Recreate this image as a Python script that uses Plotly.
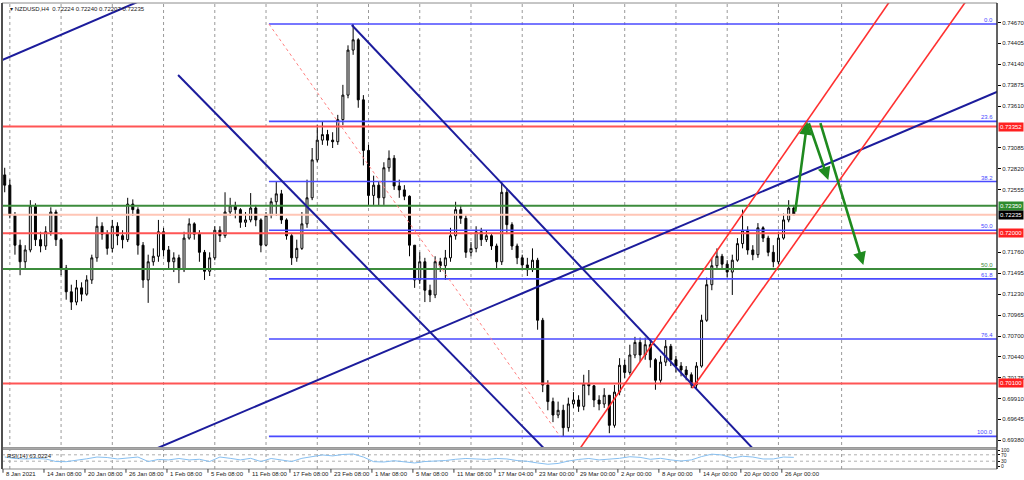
import plotly.graph_objects as go

# ---------------- data ----------------
# NZDUSD H4, each candle here groups three H4 bars
first_open = 0.7274
closes = [
    0.7261, 0.7223, 0.7185, 0.7164, 0.7179, 0.7235, 0.7192, 0.7184, 0.7202, 0.7227,
    0.7192, 0.7156, 0.7126, 0.7113, 0.7131, 0.7123, 0.7141, 0.7169, 0.7209, 0.7199,
    0.7181, 0.7209, 0.7197, 0.7192, 0.7237, 0.7230, 0.7185, 0.7141, 0.7164, 0.7171,
    0.7202, 0.7179, 0.7164, 0.7169, 0.7154, 0.7194, 0.7212, 0.7199, 0.7176, 0.7152,
    0.7169, 0.7204, 0.7197, 0.7227, 0.7235, 0.7230, 0.7214, 0.7217, 0.7232, 0.7217,
    0.7185, 0.7223, 0.7240, 0.7250, 0.7217, 0.7197, 0.7169, 0.7181, 0.7212, 0.7245,
    0.7293, 0.7318, 0.7325, 0.7318, 0.7316, 0.7344, 0.7375, 0.7432, 0.7445, 0.7369,
    0.7305, 0.7248, 0.7261, 0.7245, 0.7283, 0.7295, 0.7260, 0.7255, 0.7247, 0.7185,
    0.7141, 0.7164, 0.7128, 0.7122, 0.7164, 0.7159, 0.7169, 0.7197, 0.7230, 0.7219,
    0.7176, 0.7181, 0.7202, 0.7192, 0.7197, 0.7184, 0.7164, 0.7252, 0.7211, 0.7184,
    0.7169, 0.7160, 0.7154, 0.7166, 0.7090, 0.7008, 0.6987, 0.6970, 0.6976, 0.6954,
    0.6984, 0.6989, 0.6981, 0.7009, 0.7007, 0.6989, 0.6984, 0.6995, 0.6957, 0.6999,
    0.7033, 0.7024, 0.7046, 0.7062, 0.7046, 0.7059, 0.7040, 0.7014, 0.7037, 0.7057,
    0.7040, 0.7032, 0.7027, 0.7021, 0.7008, 0.7032, 0.7090, 0.7135, 0.7159, 0.7171,
    0.7161, 0.7151, 0.7166, 0.7187, 0.7204, 0.7179, 0.7173, 0.7207, 0.7194, 0.7176,
    0.7164, 0.7194, 0.7217, 0.7232, 0.72235,
]
highs = [
    0.7283, 0.7268, 0.7227, 0.7192, 0.7185, 0.7242, 0.7238, 0.7202, 0.7209, 0.7233,
    0.7230, 0.7194, 0.7160, 0.7135, 0.7141, 0.7138, 0.7147, 0.7173, 0.7221, 0.7214,
    0.7204, 0.7217, 0.7214, 0.7204, 0.7245, 0.7243, 0.7233, 0.7189, 0.7173, 0.7181,
    0.7217, 0.7207, 0.7184, 0.7176, 0.7173, 0.7202, 0.7219, 0.7214, 0.7204, 0.7179,
    0.7176, 0.7209, 0.7209, 0.7252, 0.7245, 0.7240, 0.7232, 0.7227, 0.7251, 0.7236,
    0.7219, 0.7227, 0.7245, 0.7265, 0.7255, 0.7219, 0.7199, 0.7192, 0.7227, 0.7268,
    0.7308, 0.7337, 0.7341, 0.7331, 0.7328, 0.7350, 0.7388, 0.7438, 0.7465, 0.7447,
    0.7375, 0.7312, 0.7273, 0.7265, 0.7290, 0.7305, 0.7299, 0.7268, 0.7261, 0.7248,
    0.7185, 0.7176, 0.7169, 0.7135, 0.7171, 0.7169, 0.7179, 0.7207, 0.7240, 0.7236,
    0.7223, 0.7189, 0.7209, 0.7207, 0.7204, 0.7199, 0.7187, 0.7265, 0.7257, 0.7214,
    0.7187, 0.7173, 0.7169, 0.7181, 0.7169, 0.7093, 0.7014, 0.6992, 0.6987, 0.6983,
    0.6992, 0.6999, 0.6995, 0.7021, 0.7027, 0.7008, 0.6995, 0.7004, 0.6995, 0.7008,
    0.7042, 0.7040, 0.7059, 0.7069, 0.7068, 0.7068, 0.7065, 0.7042, 0.7045, 0.7065,
    0.7060, 0.7045, 0.7037, 0.7032, 0.7024, 0.7037, 0.7097, 0.7144, 0.7169, 0.7181,
    0.7174, 0.7166, 0.7173, 0.7194, 0.7230, 0.7209, 0.7185, 0.7213, 0.7209, 0.7197,
    0.7185, 0.7202, 0.7225, 0.7242, 0.7236,
]
lows = [
    0.7252, 0.7219, 0.7173, 0.7147, 0.7156, 0.7176, 0.7184, 0.7176, 0.7179, 0.7197,
    0.7184, 0.7147, 0.7116, 0.7103, 0.7109, 0.7114, 0.7121, 0.7136, 0.7164, 0.7192,
    0.7173, 0.7176, 0.7185, 0.7181, 0.7189, 0.7222, 0.7173, 0.7131, 0.7112, 0.7159,
    0.7164, 0.7171, 0.7154, 0.7151, 0.7137, 0.7151, 0.7192, 0.7192, 0.7164, 0.7141,
    0.7146, 0.7166, 0.7189, 0.7194, 0.7222, 0.7219, 0.7207, 0.7208, 0.7214, 0.7209,
    0.7176, 0.7184, 0.7219, 0.7222, 0.7212, 0.7192, 0.7160, 0.7164, 0.7179, 0.7207,
    0.7242, 0.7290, 0.7312, 0.7311, 0.7308, 0.7312, 0.7337, 0.7371, 0.7426, 0.7359,
    0.7286, 0.7236, 0.7236, 0.7235, 0.7236, 0.7278, 0.7255, 0.7245, 0.7242, 0.7171,
    0.7131, 0.7136, 0.7113, 0.7113, 0.7118, 0.7151, 0.7141, 0.7164, 0.7192, 0.7212,
    0.7169, 0.7171, 0.7176, 0.7184, 0.7189, 0.7179, 0.7154, 0.7160, 0.7199, 0.7179,
    0.7161, 0.7154, 0.7146, 0.7151, 0.7078, 0.6999, 0.6976, 0.6961, 0.6966, 0.6943,
    0.6949, 0.6979, 0.6974, 0.6976, 0.6995, 0.6980, 0.6976, 0.6979, 0.6947, 0.6954,
    0.6995, 0.7017, 0.7021, 0.7042, 0.7037, 0.7040, 0.7030, 0.7002, 0.7009, 0.7032,
    0.7032, 0.7024, 0.7019, 0.7014, 0.7004, 0.7004, 0.7030, 0.7088, 0.7128, 0.7154,
    0.7156, 0.7144, 0.7122, 0.7164, 0.7181, 0.7173, 0.7166, 0.7169, 0.7189, 0.7171,
    0.7157, 0.7161, 0.7192, 0.7214, 0.7223,
]
rsi_values = [
    56, 47, 44, 47, 44, 28, 27, 34, 45, 56,
    53, 44, 48, 56, 28, 41, 38, 47, 38, 42,
    28, 56, 48, 38, 48, 28, 47, 38, 28, 48,
    59, 69, 63, 72, 75, 56, 27, 25, 33, 27,
    19, 28, 31, 34, 42, 47, 44, 41, 47, 44,
    34, 29, 19, 11, 16, 31, 41, 47, 38, 42,
    48, 58, 54, 42, 48, 38, 31, 38, 59, 74,
    69, 50, 61, 56, 44, 44, 56, 54,
]

date_labels = [
    "8 Jan 2021", "14 Jan 08:00", "20 Jan 08:00", "26 Jan 08:00", "1 Feb 08:00",
    "5 Feb 08:00", "11 Feb 08:00", "17 Feb 08:00", "23 Feb 08:00", "1 Mar 08:00",
    "5 Mar 08:00", "11 Mar 08:00", "17 Mar 04:00", "23 Mar 00:00", "29 Mar 00:00",
    "2 Apr 00:00", "8 Apr 00:00", "14 Apr 00:00", "20 Apr 00:00", "26 Apr 00:00",
]
# scale labels that stay visible (the ones under the coloured price boxes are hidden)
price_ticks = [
    0.74670, 0.74405, 0.74140, 0.73875, 0.73610, 0.73085, 0.72820,
    0.72555, 0.71760, 0.71495, 0.71230, 0.70965, 0.70700,
    0.70440, 0.70175, 0.69910, 0.69645, 0.69380,
]
rsi_ticks = [100, 70, 30, 0]

# drawn objects, anchors as (bar number, price)
navy_lines = [
    [(-1.76, 0.74182), (91.9, 0.75051)],
    [(56.8, 0.68973), (642.2, 0.74343)],
    [(102.5, 0.74004), (333.7, 0.68904)],
    [(204.2, 0.74637), (455.3, 0.68904)],
]
red_channel = [
    [(325.9, 0.68904), (523.8, 0.75081)],
    [(403.6, 0.70038), (568.5, 0.75081)],
]
fib_anchor_1 = (155.7, 0.7465)
fib_anchor_2 = (326.1, 0.6943)
fib_ratios = [0.0, 23.6, 38.2, 50.0, 61.8, 76.4, 100.0]
red_levels = [0.73352, 0.72000, 0.70100]
green_levels = [0.72350, 0.71550]
bid_price = 0.72235
arrows = [
    [(463.7, 0.72257), (470.9, 0.73413)],
    [(471.5, 0.73413), (483.2, 0.72675)],
    [(478.3, 0.73413), (503.7, 0.71599)],
]
grid_bars = [4, 34, 64, 94, 124, 154, 184, 214, 244, 274, 304, 334, 364, 394, 424, 454, 491]

# ---------------- figure ----------------
BARS_PER_CANDLE = 3
candle_x = [BARS_PER_CANDLE * k + 1 for k in range(len(closes))]
opens = [first_open] + closes[:-1]
rsi_x = [6 * j + 1 for j in range(len(rsi_values))]
X_RANGE = [-0.585, 581.97]
FONT = "Liberation Sans"

NAVY = "#1c1c9c"
FIBBLUE = "#4a4aff"
RED = "#ff3030"
GREEN = "#3c8c3c"

fig = go.Figure()

fig.add_trace(go.Candlestick(
    x=candle_x, open=opens, high=highs, low=lows, close=closes,
    increasing=dict(line=dict(color="black", width=1), fillcolor="white"),
    decreasing=dict(line=dict(color="black", width=1), fillcolor="black"),
    whiskerwidth=0, xaxis="x", yaxis="y", showlegend=False, hoverinfo="skip",
))

def hline(price, color, width, dash="solid", x0=X_RANGE[0] - 5):
    fig.add_trace(go.Scatter(x=[x0, X_RANGE[1] + 5], y=[price, price], mode="lines",
                             line=dict(color=color, width=width, dash=dash),
                             xaxis="x", yaxis="y", showlegend=False, hoverinfo="skip"))

hline(bid_price, "#ffc6b6", 2)
for p in green_levels:
    hline(p, GREEN, 2)
for p in red_levels:
    hline(p, "#ff5555", 2)

# fibonacci
f_hi, f_lo = fib_anchor_1[1], fib_anchor_2[1]
for r in fib_ratios:
    hline(f_hi - (f_hi - f_lo) * r / 100.0, FIBBLUE, 1.6, x0=fib_anchor_1[0])
fig.add_trace(go.Scatter(x=[fib_anchor_1[0], fib_anchor_2[0]], y=[fib_anchor_1[1], fib_anchor_2[1]],
                         mode="lines", line=dict(color="#ff8080", width=1, dash="dot"),
                         xaxis="x", yaxis="y", showlegend=False, hoverinfo="skip"))

for seg in navy_lines:
    fig.add_trace(go.Scatter(x=[seg[0][0], seg[1][0]], y=[seg[0][1], seg[1][1]], mode="lines",
                             line=dict(color=NAVY, width=2), xaxis="x", yaxis="y",
                             showlegend=False, hoverinfo="skip"))
for seg in red_channel:
    fig.add_trace(go.Scatter(x=[seg[0][0], seg[1][0]], y=[seg[0][1], seg[1][1]], mode="lines",
                             line=dict(color=RED, width=1.6), xaxis="x", yaxis="y",
                             showlegend=False, hoverinfo="skip"))

# RSI
fig.add_trace(go.Scatter(x=rsi_x, y=rsi_values, mode="lines",
                         line=dict(color="#87bff0", width=1), xaxis="x2", yaxis="y2",
                         showlegend=False, hoverinfo="skip"))

shapes = []
for b in grid_bars:
    shapes.append(dict(type="line", xref="x", yref="paper", x0=b, x1=b, y0=0, y1=1,
                       line=dict(color="#9a9a9a", width=1, dash="dot"), layer="below"))
for lv in (70, 30):
    shapes.append(dict(type="line", xref="paper", yref="y2", x0=0, x1=1, y0=lv, y1=lv,
                       line=dict(color="#b0b0b0", width=1, dash="dot"), layer="below"))

MAIN_DOM = [(469 - 447.5) / 466, 1.0]
RSI_DOM = [0.0, (469 - 449.5) / 466]
# pane frames
shapes.append(dict(type="rect", xref="paper", yref="paper", x0=0, x1=1, y0=MAIN_DOM[0], y1=1,
                   line=dict(color="#8c8c8c", width=1)))
shapes.append(dict(type="rect", xref="paper", yref="paper", x0=0, x1=1, y0=RSI_DOM[0], y1=RSI_DOM[1],
                   line=dict(color="#8c8c8c", width=1)))
shapes.append(dict(type="rect", xref="paper", yref="paper", x0=0, x1=1, y0=RSI_DOM[1], y1=MAIN_DOM[0],
                   fillcolor="#a8a8a8", line=dict(width=0)))
shapes.append(dict(type="line", xref="paper", yref="paper", x0=1, x1=1, y0=0, y1=1,
                   line=dict(color="black", width=1)))
shapes.append(dict(type="line", xref="paper", yref="paper", x0=0, x1=0, y0=0, y1=1,
                   line=dict(color="#505050", width=2)))

annotations = []
# date labels
for i, lab in enumerate(date_labels):
    annotations.append(dict(x=24 * i, y=-0.0107, xref="x", yref="paper", text=lab,
                            showarrow=False, xanchor="left", yanchor="middle", xshift=1,
                            font=dict(family=FONT, size=6, color="#202020")))
    shapes.append(dict(type="line", xref="x", yref="paper", x0=24 * i, x1=24 * i,
                       y0=0, y1=-0.008, line=dict(color="#404040", width=1)))

# fib level captions
for r in fib_ratios:
    annotations.append(dict(x=1, y=f_hi - (f_hi - f_lo) * r / 100.0, xref="paper", yref="y",
                            text=f"{r:.1f}", showarrow=False, xanchor="right", yanchor="bottom",
                            xshift=-2, yshift=-1, font=dict(family=FONT, size=6, color=FIBBLUE)))
annotations.append(dict(x=1, y=green_levels[1], xref="paper", yref="y", text="50.0",
                        showarrow=False, xanchor="right", yanchor="bottom", xshift=-2, yshift=-1,
                        font=dict(family=FONT, size=6, color=GREEN)))

# price boxes on the scale
def price_box(price, bg):
    annotations.append(dict(x=1, y=price, xref="paper", yref="y", text=f"{price:.5f}",
                            showarrow=False, xanchor="left", yanchor="middle", xshift=1,
                            bgcolor=bg, borderpad=1, font=dict(family=FONT, size=6, color="white")))

price_box(red_levels[0], "#ff2020")
price_box(green_levels[0], "#2e8b2e")
price_box(bid_price, "black")
price_box(red_levels[1], "#ff2020")
price_box(red_levels[2], "#ff2020")

# arrows
for tail, tip in arrows:
    annotations.append(dict(x=tip[0], y=tip[1], ax=tail[0], ay=tail[1], xref="x", yref="y",
                            axref="x", ayref="y", showarrow=True, arrowhead=2, arrowsize=1,
                            arrowwidth=2.6, arrowcolor="#1f8a1f", text=""))

annotations.append(dict(x=0, y=1, xref="paper", yref="paper", xanchor="left", yanchor="top",
                        xshift=6, yshift=-1, showarrow=False,
                        text="▾ NZDUSD,H4  0.72224 0.72240 0.72207 0.72235",
                        font=dict(family=FONT, size=6, color="#202020")))
annotations.append(dict(x=0, y=RSI_DOM[1], xref="paper", yref="paper", xanchor="left", yanchor="top",
                        xshift=3, yshift=-1, showarrow=False, text="RSI(14) 63.0224",
                        font=dict(family=FONT, size=6, color="#202020")))

fig.update_layout(
    width=1024, height=480,
    margin=dict(l=2, r=27, t=3, b=11, autoexpand=False),
    paper_bgcolor="white", plot_bgcolor="white",
    showlegend=False, boxgap=0.45,
    xaxis=dict(domain=[0, 1], range=X_RANGE, anchor="y", showgrid=False, zeroline=False,
               showticklabels=False, ticks="", rangeslider=dict(visible=False), fixedrange=True),
    xaxis2=dict(domain=[0, 1], range=X_RANGE, anchor="y2", matches="x", showgrid=False,
                zeroline=False, showticklabels=False, ticks=""),
    yaxis=dict(domain=MAIN_DOM, range=[0.69289, 0.74916], side="right", anchor="x",
               showgrid=False, zeroline=False, tickvals=price_ticks, automargin=False,
               ticktext=[f"{v:.5f}" for v in price_ticks], ticks="outside", ticklen=3,
               tickcolor="black", tickfont=dict(family=FONT, size=6, color="#202020")),
    yaxis2=dict(domain=RSI_DOM, range=[-18.75, 103.1], side="right", anchor="x2",
                showgrid=False, zeroline=False, tickvals=rsi_ticks, automargin=False,
                ticktext=[str(v) for v in rsi_ticks], ticks="outside", ticklen=2,
                tickcolor="black", tickfont=dict(family=FONT, size=5, color="#202020")),
    shapes=shapes,
    annotations=annotations,
)

fig.write_html(
    "out.html",
    config={"displayModeBar": False, "staticPlot": True},
    post_script="document.body.style.margin='0';document.body.style.overflow='hidden';",
)
